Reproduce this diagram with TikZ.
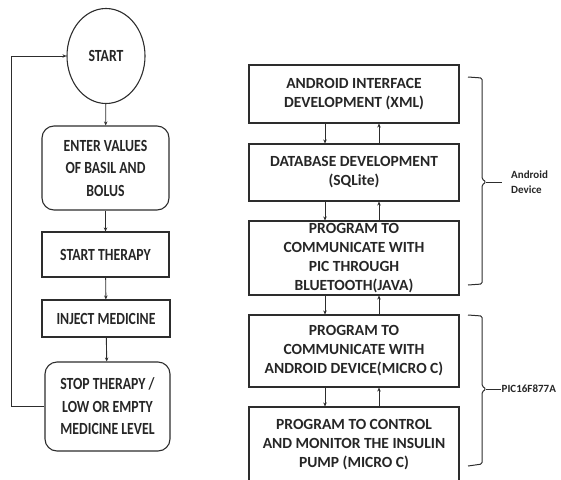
\documentclass[tikz,border=0pt]{standalone}
\usepackage{fontspec}
\setmainfont{Carlito}
\newfontfamily\flowfont{Carlito}[FakeStretch=0.81]
\usetikzlibrary{arrows.meta, positioning, calc, shapes.geometric}
\definecolor{garisabu}{RGB}{45,45,45}

\tikzset{
  flowbox/.style={draw=garisabu, line width=1.1pt, rectangle, align=center, inner sep=0pt,
    font=\flowfont\bfseries\fontsize{17}{22.5}\selectfont, text=black!85},
  roundbox/.style={flowbox, rounded corners=12pt},
  devbox/.style={draw=garisabu, line width=1.1pt, rectangle, align=center, inner sep=0pt,
    minimum width=210pt, font=\bfseries\fontsize{15.5}{19}\selectfont, text=black!85},
  flowarrow/.style={draw=garisabu, line width=0.9pt, -{Stealth[length=4pt,width=3.5pt]}},
  bracket/.style={draw=garisabu, line width=1pt, rounded corners=1.5pt},
  sidelabel/.style={font=\bfseries\fontsize{11}{15}\selectfont, align=left, anchor=west, text=black!85}
}

\begin{document}
\begin{tikzpicture}[x=1pt, y=-1pt]
        \useasboundingbox (0,0) rectangle (561,479);
        % flowchart kiri
        \node[ellipse, draw=garisabu, line width=1.1pt, inner sep=0pt, minimum width=78pt, minimum height=95pt,
              font=\flowfont\bfseries\fontsize{17}{22.5}\selectfont, text=black!85] (start) at (106,56) {START};
        \node[roundbox, minimum width=127pt, minimum height=84pt] (enter) at (105.5,168) {ENTER VALUES\\OF BASIL AND\\BOLUS};
        \node[flowbox, minimum width=127pt, minimum height=45pt] (therapy) at (105.5,254.5) {START THERAPY};
        \node[flowbox, minimum width=128pt, minimum height=37pt] (inject) at (106,318.5) {INJECT MEDICINE};
        \node[roundbox, minimum width=125pt, minimum height=89pt] (stop) at (107.5,406.5) {STOP THERAPY /\\LOW OR EMPTY\\MEDICINE LEVEL};

        \draw[flowarrow] (start) -- (enter);
        \draw[flowarrow] (enter) -- (therapy);
        \draw[flowarrow] (therapy) -- (inject);
        \draw[flowarrow] (inject) -- (stop);
        \draw[flowarrow] (stop.west) -- ++(-33,0) |- (start.west);

        % blok kanan
        \node[devbox, minimum height=58pt] (android) at (354,94) {ANDROID INTERFACE\\DEVELOPMENT (XML)};
        \node[devbox, minimum height=57pt] (database) at (354,172.5) {DATABASE DEVELOPMENT\\(SQLite)};
        \node[devbox, minimum height=74pt] (bluetooth) at (354,258) {PROGRAM TO\\COMMUNICATE WITH\\PIC THROUGH\\BLUETOOTH(JAVA)};
        \node[devbox, minimum height=72pt] (picomm) at (354,351) {PROGRAM TO\\COMMUNICATE WITH\\ANDROID DEVICE(MICRO C)};
        \node[devbox, minimum height=76pt] (pump) at (354,445) {PROGRAM TO CONTROL\\AND MONITOR THE INSULIN\\PUMP (MICRO C)};

        \foreach \ua/\ub in {android/database, database/bluetooth, bluetooth/picomm, picomm/pump}
        {
            \draw[flowarrow] ([xshift=-29pt]\ua.south) -- ([xshift=-29pt]\ub.north);
            \draw[flowarrow] ([xshift=25pt]\ub.north) -- ([xshift=25pt]\ua.south);
        }

        % kurung kurawal
        \draw[bracket] (468,77) -- (482,78) -- (482,179) -- (486,182) -- (482,185) -- (482,284) -- (468,285);
        \coordinate (androidtip) at (486,182);
        \node[sidelabel, inner xsep=9pt] (androidlbl) at (502,182) {Android\\Device};
        \draw[bracket] (androidtip) -- (androidlbl.west);

        \draw[bracket] (468,315) -- (482,316) -- (482,386) -- (486,389) -- (482,392) -- (482,464) -- (468,466);
        \coordinate (pictip) at (486,389);
        \node[sidelabel, inner xsep=0.5pt] (piclbl) at (501,389) {PIC16F877A};
        \draw[bracket] (pictip) -- (piclbl.west);
    \end{tikzpicture}
\end{document}
